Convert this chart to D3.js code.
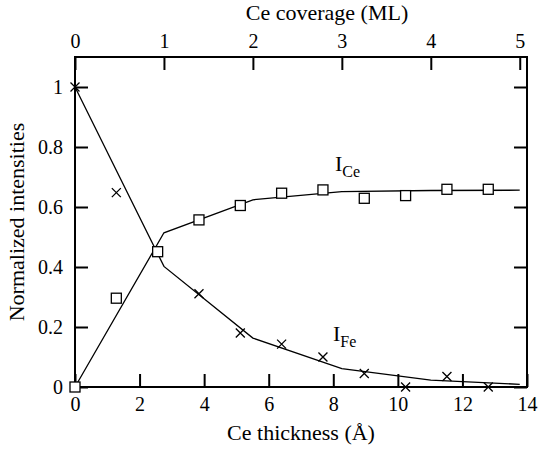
<!DOCTYPE html>
<html>
<head>
<meta charset="utf-8">
<script src="https://cdn.jsdelivr.net/npm/d3@7"></script>
<style>
  svg text { font-family: "Liberation Serif", "Times New Roman", Tinos, serif !important; }
</style>
</head>
<body style="margin:0">
<svg id="chart" width="540" height="449"></svg>
<script>
// Measured Ce thickness (Å) for each deposition step
const thickness = [0, 1.28, 2.56, 3.84, 5.12, 6.4, 7.68, 8.96, 10.24, 11.52, 12.8];
// Normalized Auger intensities
const intensityCe = [0.0, 0.296, 0.451, 0.557, 0.605, 0.646, 0.657, 0.629, 0.638, 0.659, 0.659];
const intensityFe = [1.0, 0.648, 0.452, 0.311, 0.180, 0.143, 0.100, 0.045, 0.0, 0.035, 0.0];

// Layer-by-layer growth model, evaluated at completed monolayers
const fitThickness = [0, 2.755, 5.51, 8.265, 11.02, 13.775];
const fitCe = [0, 0.514, 0.624, 0.651, 0.655, 0.656];
const fitFe = [1.0, 0.402, 0.163, 0.061, 0.023, 0.009];

// Axis ticks
const thicknessTicks = [0, 2, 4, 6, 8, 10, 12, 14];
const coverageTicks = [0, 1, 2, 3, 4, 5];
const intensityTicks = [0, 0.2, 0.4, 0.6, 0.8, 1];
const angstromPerML = 2.755;

const svg = d3.select("#chart");
const margin = { top: 57, right: 13, bottom: 62, left: 75 };
const W = 540, H = 449;
const width = W - margin.left - margin.right;
const height = H - margin.top - margin.bottom;

const x = d3.scaleLinear().domain([0, 14]).range([0, width]);
const xTop = d3.scaleLinear().domain([0, 14 / angstromPerML]).range([0, width]);
const y = d3.scaleLinear().domain([0, 1.1]).range([height, 0]);

const g = svg.append("g").attr("transform", `translate(${margin.left},${margin.top})`);

const fmt = d3.format("~g");
const tickLen = 13;

function serifText(sel, size) {
  sel.style("font-family", "'Liberation Serif', 'Times New Roman', serif")
     .attr("font-size", size)
     .attr("fill", "#000");
}

function styleAxis(sel) {
  sel.attr("font-family", null).attr("font-size", null);
  sel.select(".domain").remove();
  sel.selectAll(".tick line").attr("stroke", "#000").attr("stroke-width", 2);
  sel.selectAll(".tick text").call(serifText, 20);
}

// Bottom axis: thickness
g.append("g")
  .attr("transform", `translate(0,${height})`)
  .call(d3.axisBottom(x).tickValues(thicknessTicks).tickFormat(fmt).tickSize(-tickLen).tickPadding(10))
  .call(styleAxis);

// Top axis: coverage in monolayers
g.append("g")
  .call(d3.axisTop(xTop).tickValues(coverageTicks).tickFormat(fmt).tickSize(-tickLen).tickPadding(9))
  .call(styleAxis);

// Left axis
g.append("g")
  .call(d3.axisLeft(y).tickValues(intensityTicks).tickFormat(fmt).tickSize(-tickLen).tickPadding(12))
  .call(styleAxis);

// Right axis (ticks only)
g.append("g")
  .attr("transform", `translate(${width},0)`)
  .call(d3.axisRight(y).tickValues(intensityTicks).tickFormat("").tickSize(-tickLen))
  .call(styleAxis);

// Frame
g.append("rect")
  .attr("x", 0).attr("y", 0)
  .attr("width", width).attr("height", height)
  .attr("fill", "none").attr("stroke", "#000").attr("stroke-width", 2);

// Fit curves
const line = d3.line().x(d => x(d[0])).y(d => y(d[1]));
[fitCe, fitFe].forEach(vals => {
  g.append("path")
    .datum(fitThickness.map((t, i) => [t, vals[i]]))
    .attr("d", line)
    .attr("fill", "none")
    .attr("stroke", "#000")
    .attr("stroke-width", 1.3);
});

// Fe markers (crosses)
const cs = 4.5;
g.append("g").selectAll("path")
  .data(thickness.map((t, i) => [t, intensityFe[i]]))
  .join("path")
  .attr("transform", d => `translate(${x(d[0])},${y(d[1])})`)
  .attr("d", `M${-cs},${-cs}L${cs},${cs}M${-cs},${cs}L${cs},${-cs}`)
  .attr("stroke", "#000")
  .attr("stroke-width", 1.3)
  .attr("fill", "none");

// Ce markers (open squares)
const sq = 10;
g.append("g").selectAll("rect")
  .data(thickness.map((t, i) => [t, intensityCe[i]]))
  .join("rect")
  .attr("x", d => x(d[0]) - sq / 2)
  .attr("y", d => y(d[1]) - sq / 2)
  .attr("width", sq).attr("height", sq)
  .attr("fill", "#fff")
  .attr("stroke", "#000")
  .attr("stroke-width", 1.3);

// Curve labels
function subLabel(px, py, main, sub) {
  const t = g.append("text").attr("x", px).attr("y", py).call(serifText, 22);
  t.append("tspan").text(main);
  t.append("tspan").attr("dy", 6).attr("font-size", 16).text(sub);
}
subLabel(x(8.05), y(0.72), "I", "Ce");
subLabel(x(7.99), y(0.155), "I", "Fe");

// Axis titles
function title(tx, ty, txt, rot) {
  return svg.append("text")
    .attr("transform", `translate(${tx},${ty})` + (rot ? ` rotate(${rot})` : ""))
    .attr("text-anchor", "middle")
    .call(serifText, 22)
    .text(txt);
}
title(margin.left + width / 2, 440, "Ce thickness (Å)");
title(327, 20, "Ce coverage (ML)");
title(24, margin.top + height / 2, "Normalized intensities", -90);
</script>
</body>
</html>
